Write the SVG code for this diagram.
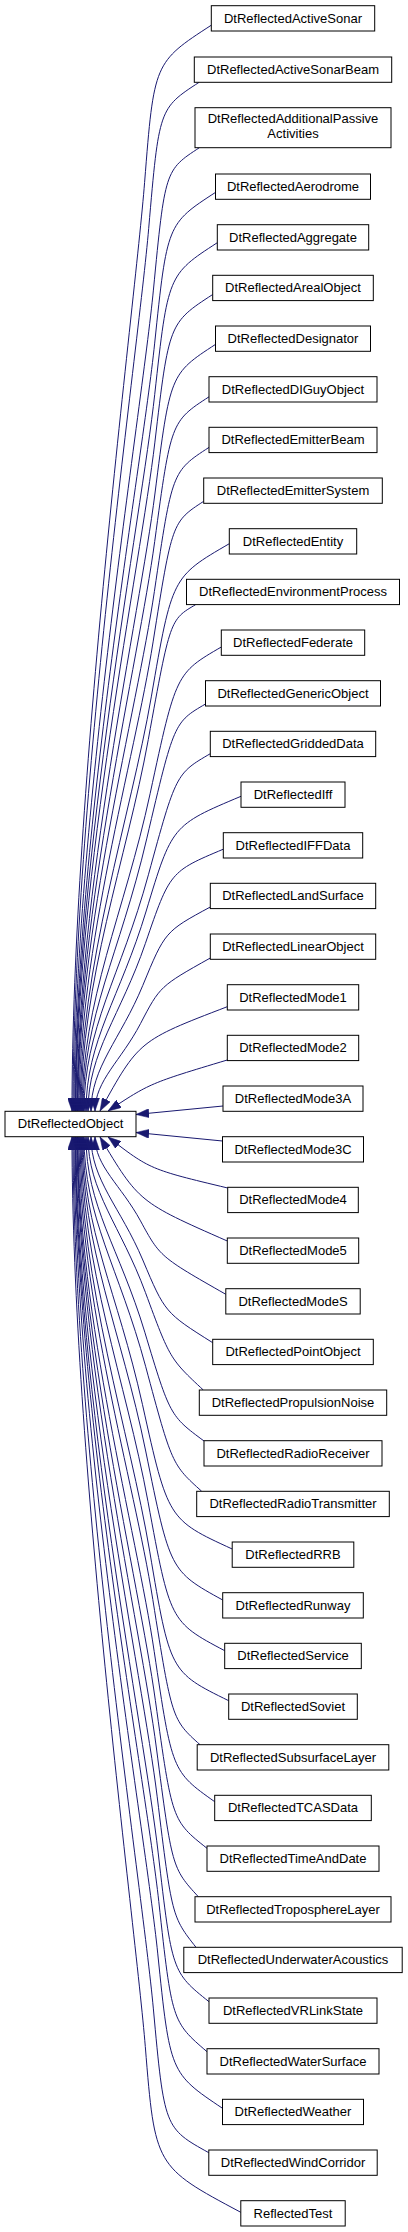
<svg xmlns="http://www.w3.org/2000/svg" width="408" height="2232" viewBox="0 0 408 2232">
<style>
.node rect{fill:#fff;stroke:#000;stroke-width:1}
.node text{font-family:"Liberation Sans",Arial,Helvetica,sans-serif;font-size:13px;fill:#000;text-anchor:middle}
#edges path{fill:none;stroke:#191970;stroke-width:1;marker-start:url(#ah)}
</style>
<defs>
<marker id="ah" viewBox="0 0 13 9" refX="13" refY="4.5" markerWidth="13" markerHeight="9" markerUnits="userSpaceOnUse" orient="auto-start-reverse">
<path d="M0,0 L13,4.5 L0,9 z" fill="#191970" stroke="#191970" stroke-width="0.5"/>
</marker>
</defs>
<rect width="408" height="2232" fill="#fff"/>
<g id="edges">
<path d="M72,1111 C72,786 135.2,302.4 144.6,182.4 S154,62.4 211.3,25.2"/>
<path d="M73,1111 C73,802.1 138.4,348.4 148.7,228.4 S159,108.4 199.1,82.3"/>
<path d="M74,1111 C74,823.7 141.8,410.1 153.4,290.1 S165,170.1 199.4,147.7"/>
<path d="M75,1111 C75,842.5 142.1,463.9 154.6,343.9 S167,223.9 215.5,192.4"/>
<path d="M75.5,1111 C75.5,860.3 141.5,514.7 154.7,394.7 S168,274.7 217.3,242.7"/>
<path d="M76,1111 C76,877.2 140.7,562.9 154.8,442.9 S169,322.9 212.7,294.5"/>
<path d="M77,1111 C77,895.1 139.7,614 154.9,494 S170,374 215.5,344.4"/>
<path d="M77.5,1111 C77.5,911.7 138.5,661.5 154.7,541.5 S171,421.5 209,396.8"/>
<path d="M78,1111 C78,929.1 136.7,711.4 154.4,591.4 S172,471.4 209,447.4"/>
<path d="M79,1111 C79,946.8 134.1,761.9 153.1,641.9 S172,521.9 203.7,501.3"/>
<path d="M80,1111 C80,966.1 130.6,816.9 151.3,696.9 S172,576.9 229.3,543.7"/>
<path d="M81,1111 C81,981 126.5,859.5 148.3,739.5 S170,619.5 195.6,604.7"/>
<path d="M82,1111 C82,999.8 124.4,913.3 150.2,793.3 S176,673.3 221.3,647"/>
<path d="M83,1111 C83,1015.8 119.4,955.5 146.7,838.9 S174,722.3 205.5,704"/>
<path d="M84,1111 C84,1028.3 120.8,976 148.4,874.8 S176,773.6 210.3,753.7"/>
<path d="M86,1111 C86,1041 120.4,996.7 146.2,911 S172,825.3 241,796.3"/>
<path d="M88,1111 C88,1052.3 120.8,1015.2 145.4,943.4 S170,871.6 223.3,849.2"/>
<path d="M91,1111 C91,1067 120.6,1039.3 142.8,985.4 S165,931.5 210.3,907"/>
<path d="M95,1111 C95,1080.4 121,1061 140.5,1023.6 S160,986.2 210.3,958"/>
<path d="M100,1111 C138.8,1040.6 138.8,1040.6 227.3,1006.7"/>
<path d="M108,1111 C150,1083.2 150,1083.2 227.3,1060"/>
<path d="M136,1114.5 L223,1106"/>
<path d="M136,1132.5 L222.5,1141"/>
<path d="M108,1137 C150,1169.4 150,1169.4 227.7,1188"/>
<path d="M100,1137 C138.8,1202.1 138.8,1202.1 227.3,1241"/>
<path d="M95,1137 C95,1166.4 121,1185 140.5,1220.9 S160,1256.8 225.8,1294.3"/>
<path d="M91,1137 C91,1180 120.6,1207.3 142.8,1260 S165,1312.7 212.7,1342.7"/>
<path d="M88,1137 C88,1191.4 120.8,1225.8 145.4,1292.4 S170,1359 203.3,1390"/>
<path d="M86,1137 C86,1205.3 119.6,1248.6 144.8,1332.2 S170,1415.8 204,1441"/>
<path d="M84,1137 C84,1217.3 119.2,1268 145.6,1366.3 S172,1464.6 201.7,1491.3"/>
<path d="M83,1137 C83,1230.7 117,1289.9 142.5,1404.7 S168,1519.5 232.2,1549"/>
<path d="M82,1137 C82,1246.9 121.3,1331 145.7,1451 S170,1571 222.7,1600"/>
<path d="M81,1137 C81,1264.6 125.9,1381.7 148,1501.7 S170,1621.7 224.7,1650.7"/>
<path d="M80,1137 C80,1282.2 129.6,1431.9 149.8,1551.9 S170,1671.9 228.7,1700.7"/>
<path d="M79,1137 C79,1298.9 133.7,1479.5 152.8,1599.5 S172,1719.5 200,1744.7"/>
<path d="M78,1137 C78,1317 136.4,1531.4 154.2,1651.4 S172,1771.4 214.7,1801.7"/>
<path d="M77.5,1137 C77.5,1334.3 138.8,1580.6 155.4,1700.6 S172,1820.6 207,1848.3"/>
<path d="M77,1137 C77,1350.9 140.8,1628 156.4,1748 S172,1868 198.3,1896.7"/>
<path d="M76,1137 C76,1367.9 142.5,1676.8 157.2,1796.8 S172,1916.8 196,1947.3"/>
<path d="M75.5,1137 C75.5,1387.3 144.3,1732.1 158.1,1852.1 S172,1972.1 209,2001.7"/>
<path d="M75,1137 C75,1404.6 145.7,1781.6 158.8,1901.6 S172,2021.6 207,2051.7"/>
<path d="M74,1137 C74,1422.6 145.4,1833.1 157.7,1953.1 S170,2073.1 222.5,2108.3"/>
<path d="M73,1137 C73,1441.9 142.3,1888.1 153.3,2008.1 S164.4,2128.1 208.8,2152.7"/>
<path d="M72,1137 C72,1455.4 135.6,1926.6 145.3,2046.6 S155,2166.6 240.8,2212.3"/>
</g>
<g id="node_DtReflectedObject" class="node"><rect x="5" y="1111.3" width="131" height="25.4"/><text x="70.5" y="1128.2">DtReflectedObject</text></g>
<g id="node_DtReflectedActiveSonar" class="node"><rect x="211.3" y="5.7" width="163.4" height="25.3"/><text x="293" y="22.7">DtReflectedActiveSonar</text></g>
<g id="node_DtReflectedActiveSonarBeam" class="node"><rect x="194.3" y="57" width="197.4" height="25.3"/><text x="293" y="74">DtReflectedActiveSonarBeam</text></g>
<g id="node_DtReflectedAdditionalPassiveActivities" class="node"><rect x="195" y="107.7" width="196" height="40"/><text x="293" y="123.3">DtReflectedAdditionalPassive</text><text x="293" y="138.3">Activities</text></g>
<g id="node_DtReflectedAerodrome" class="node"><rect x="215.5" y="174" width="155" height="25.3"/><text x="293" y="191">DtReflectedAerodrome</text></g>
<g id="node_DtReflectedAggregate" class="node"><rect x="217.3" y="224.7" width="151.4" height="25.3"/><text x="293" y="241.7">DtReflectedAggregate</text></g>
<g id="node_DtReflectedArealObject" class="node"><rect x="212.7" y="275.3" width="160.6" height="25.3"/><text x="293" y="292.3">DtReflectedArealObject</text></g>
<g id="node_DtReflectedDesignator" class="node"><rect x="215.5" y="326" width="155" height="25.3"/><text x="293" y="343">DtReflectedDesignator</text></g>
<g id="node_DtReflectedDIGuyObject" class="node"><rect x="209" y="376.7" width="168" height="25.3"/><text x="293" y="393.7">DtReflectedDIGuyObject</text></g>
<g id="node_DtReflectedEmitterBeam" class="node"><rect x="209" y="427.3" width="168" height="25.3"/><text x="293" y="444.3">DtReflectedEmitterBeam</text></g>
<g id="node_DtReflectedEmitterSystem" class="node"><rect x="203.7" y="478" width="178.6" height="25.3"/><text x="293" y="495">DtReflectedEmitterSystem</text></g>
<g id="node_DtReflectedEntity" class="node"><rect x="229.3" y="528.7" width="127.4" height="25.3"/><text x="293" y="545.7">DtReflectedEntity</text></g>
<g id="node_DtReflectedEnvironmentProcess" class="node"><rect x="186.5" y="579.3" width="213" height="25.3"/><text x="293" y="596.3">DtReflectedEnvironmentProcess</text></g>
<g id="node_DtReflectedFederate" class="node"><rect x="221.3" y="630" width="143.4" height="25.3"/><text x="293" y="647">DtReflectedFederate</text></g>
<g id="node_DtReflectedGenericObject" class="node"><rect x="205.5" y="680.7" width="175" height="25.3"/><text x="293" y="697.7">DtReflectedGenericObject</text></g>
<g id="node_DtReflectedGriddedData" class="node"><rect x="210.3" y="731.3" width="165.4" height="25.3"/><text x="293" y="748.3">DtReflectedGriddedData</text></g>
<g id="node_DtReflectedIff" class="node"><rect x="241" y="782" width="104" height="25.3"/><text x="293" y="799">DtReflectedIff</text></g>
<g id="node_DtReflectedIFFData" class="node"><rect x="223.3" y="832.7" width="139.4" height="25.3"/><text x="293" y="849.7">DtReflectedIFFData</text></g>
<g id="node_DtReflectedLandSurface" class="node"><rect x="210.3" y="883.3" width="165.4" height="25.3"/><text x="293" y="900.3">DtReflectedLandSurface</text></g>
<g id="node_DtReflectedLinearObject" class="node"><rect x="210.3" y="934" width="165.4" height="25.3"/><text x="293" y="951">DtReflectedLinearObject</text></g>
<g id="node_DtReflectedMode1" class="node"><rect x="227.3" y="984.7" width="131.4" height="25.3"/><text x="293" y="1001.7">DtReflectedMode1</text></g>
<g id="node_DtReflectedMode2" class="node"><rect x="227.3" y="1035.3" width="131.4" height="25.3"/><text x="293" y="1052.3">DtReflectedMode2</text></g>
<g id="node_DtReflectedMode3A" class="node"><rect x="223" y="1086" width="140" height="25.3"/><text x="293" y="1103">DtReflectedMode3A</text></g>
<g id="node_DtReflectedMode3C" class="node"><rect x="222.5" y="1136.7" width="141" height="25.3"/><text x="293" y="1153.7">DtReflectedMode3C</text></g>
<g id="node_DtReflectedMode4" class="node"><rect x="227.7" y="1187.3" width="130.6" height="25.3"/><text x="293" y="1204.3">DtReflectedMode4</text></g>
<g id="node_DtReflectedMode5" class="node"><rect x="227.3" y="1238" width="131.4" height="25.3"/><text x="293" y="1255">DtReflectedMode5</text></g>
<g id="node_DtReflectedModeS" class="node"><rect x="225.8" y="1288.7" width="134.4" height="25.3"/><text x="293" y="1305.7">DtReflectedModeS</text></g>
<g id="node_DtReflectedPointObject" class="node"><rect x="212.7" y="1339.3" width="160.6" height="25.3"/><text x="293" y="1356.3">DtReflectedPointObject</text></g>
<g id="node_DtReflectedPropulsionNoise" class="node"><rect x="199.3" y="1390" width="187.4" height="25.3"/><text x="293" y="1407">DtReflectedPropulsionNoise</text></g>
<g id="node_DtReflectedRadioReceiver" class="node"><rect x="204" y="1440.7" width="178" height="25.3"/><text x="293" y="1457.7">DtReflectedRadioReceiver</text></g>
<g id="node_DtReflectedRadioTransmitter" class="node"><rect x="196.7" y="1491.3" width="192.6" height="25.3"/><text x="293" y="1508.3">DtReflectedRadioTransmitter</text></g>
<g id="node_DtReflectedRRB" class="node"><rect x="232.2" y="1542" width="121.6" height="25.3"/><text x="293" y="1559">DtReflectedRRB</text></g>
<g id="node_DtReflectedRunway" class="node"><rect x="222.7" y="1592.7" width="140.6" height="25.3"/><text x="293" y="1609.7">DtReflectedRunway</text></g>
<g id="node_DtReflectedService" class="node"><rect x="224.7" y="1643.3" width="136.6" height="25.3"/><text x="293" y="1660.3">DtReflectedService</text></g>
<g id="node_DtReflectedSoviet" class="node"><rect x="228.7" y="1694" width="128.6" height="25.3"/><text x="293" y="1711">DtReflectedSoviet</text></g>
<g id="node_DtReflectedSubsurfaceLayer" class="node"><rect x="197.2" y="1744.7" width="191.6" height="25.3"/><text x="293" y="1761.7">DtReflectedSubsurfaceLayer</text></g>
<g id="node_DtReflectedTCASData" class="node"><rect x="214.7" y="1795.3" width="156.6" height="25.3"/><text x="293" y="1812.3">DtReflectedTCASData</text></g>
<g id="node_DtReflectedTimeAndDate" class="node"><rect x="207" y="1846" width="172" height="25.3"/><text x="293" y="1863">DtReflectedTimeAndDate</text></g>
<g id="node_DtReflectedTroposphereLayer" class="node"><rect x="195" y="1896.7" width="196" height="25.3"/><text x="293" y="1913.7">DtReflectedTroposphereLayer</text></g>
<g id="node_DtReflectedUnderwaterAcoustics" class="node"><rect x="183.8" y="1947.3" width="218.4" height="25.3"/><text x="293" y="1964.3">DtReflectedUnderwaterAcoustics</text></g>
<g id="node_DtReflectedVRLinkState" class="node"><rect x="209" y="1998" width="168" height="25.3"/><text x="293" y="2015">DtReflectedVRLinkState</text></g>
<g id="node_DtReflectedWaterSurface" class="node"><rect x="207" y="2048.7" width="172" height="25.3"/><text x="293" y="2065.7">DtReflectedWaterSurface</text></g>
<g id="node_DtReflectedWeather" class="node"><rect x="222.5" y="2099.3" width="141" height="25.3"/><text x="293" y="2116.3">DtReflectedWeather</text></g>
<g id="node_DtReflectedWindCorridor" class="node"><rect x="208.8" y="2150" width="168.4" height="25.3"/><text x="293" y="2167">DtReflectedWindCorridor</text></g>
<g id="node_ReflectedTest" class="node"><rect x="240.8" y="2200.7" width="104.4" height="25.3"/><text x="293" y="2217.7">ReflectedTest</text></g>
</svg>
